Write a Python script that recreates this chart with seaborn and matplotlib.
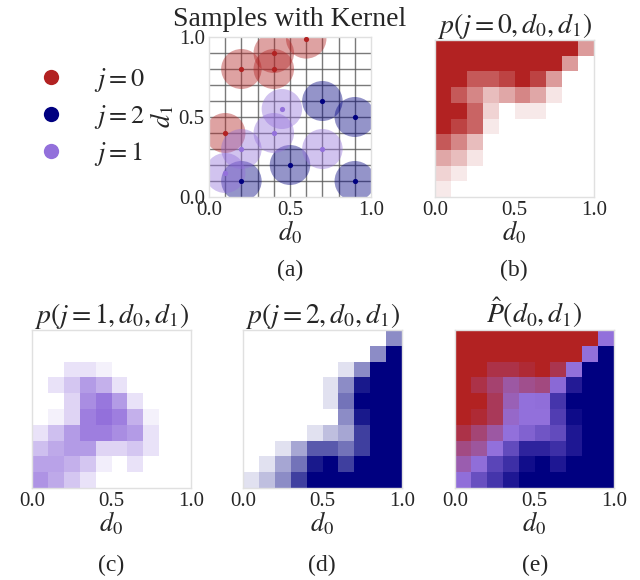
import numpy as np
import matplotlib
matplotlib.use("Agg")
import matplotlib.pyplot as plt
from matplotlib.colors import LinearSegmentedColormap
from matplotlib.patches import Circle
from matplotlib.lines import Line2D
import seaborn as sns

sns.set_theme(style="white")
plt.rcParams["font.family"] = ["Liberation Serif", "DejaVu Serif"]
plt.rcParams["mathtext.fontset"] = "stix"

RED, BLUE, PURPLE = "firebrick", "navy", "mediumpurple"

# ---- samples (d0, d1) per class ----
d0_j0 = [0.6, 0.4, 0.2, 0.4, 0.1]
d1_j0 = [0.99, 0.9, 0.8, 0.8, 0.4]
d0_j2 = [0.7, 0.9, 0.5, 0.2, 0.9]
d1_j2 = [0.6, 0.5, 0.2, 0.1, 0.1]
d0_j1 = [0.45, 0.4, 0.2, 0.7, 0.1]
d1_j1 = [0.55, 0.4, 0.3, 0.3, 0.15]
kernel_radius = 0.125

legend_labels = ["$j=0$", "$j=2$", "$j=1$"]
tick_labels = ["0.0", "0.5", "1.0"]

# ---- gridded joint densities, rows from d1=1 (top) to d1=0 (bottom) ----
p_j0 = np.array([
    [1, 1, 1, 1, 1, 1, 1, 1, 1, 0.45],
    [1, 1, 1, 1, 1, 1, 1, 1, 0.45, 0],
    [1, 1, 0.75, 0.75, 0.85, 1, 0.85, 0.45, 0, 0],
    [1, 0.75, 0.55, 0.3, 0.4, 0.55, 0.4, 0.12, 0, 0],
    [1, 1, 0.7, 0.2, 0, 0.1, 0.1, 0, 0, 0],
    [1, 0.85, 0.7, 0.1, 0, 0, 0, 0, 0, 0],
    [0.75, 0.55, 0.3, 0, 0, 0, 0, 0, 0, 0],
    [0.4, 0.3, 0.12, 0, 0, 0, 0, 0, 0, 0],
    [0.2, 0.1, 0, 0, 0, 0, 0, 0, 0, 0],
    [0.1, 0, 0, 0, 0, 0, 0, 0, 0, 0],
])
p_j1 = np.array([
    [0, 0, 0, 0, 0, 0, 0, 0, 0, 0],
    [0, 0, 0, 0, 0, 0, 0, 0, 0, 0],
    [0, 0, 0.2, 0.2, 0.1, 0, 0, 0, 0, 0],
    [0, 0.2, 0.4, 0.7, 0.55, 0.2, 0, 0, 0, 0],
    [0, 0, 0.3, 0.8, 0.95, 0.7, 0.2, 0, 0, 0],
    [0, 0.1, 0.3, 0.9, 1.0, 0.9, 0.55, 0.1, 0, 0],
    [0.2, 0.45, 0.7, 0.9, 0.9, 0.8, 0.7, 0.2, 0, 0],
    [0.45, 0.6, 0.7, 0.7, 0.3, 0.3, 0.4, 0.2, 0, 0],
    [0.65, 0.65, 0.55, 0.4, 0.12, 0, 0.2, 0, 0, 0],
    [0.75, 0.6, 0.4, 0.2, 0, 0, 0, 0, 0, 0],
])
p_j2 = np.array([
    [0, 0, 0, 0, 0, 0, 0, 0, 0, 0.45],
    [0, 0, 0, 0, 0, 0, 0, 0, 0.45, 1],
    [0, 0, 0, 0, 0, 0, 0.12, 0.45, 1, 1],
    [0, 0, 0, 0, 0, 0.12, 0.45, 0.9, 1, 1],
    [0, 0, 0, 0, 0, 0.12, 0.55, 1, 1, 1],
    [0, 0, 0, 0, 0, 0, 0.45, 0.9, 1, 1],
    [0, 0, 0, 0, 0.12, 0.25, 0.35, 0.75, 1, 1],
    [0, 0, 0.12, 0.35, 0.65, 0.65, 0.55, 0.75, 1, 1],
    [0, 0.12, 0.35, 0.55, 0.9, 1, 0.75, 1, 1, 1],
    [0.12, 0.25, 0.45, 0.75, 1, 1, 1, 1, 1, 1],
])

fig = plt.figure(figsize=(6.4, 5.8), dpi=100)

W, H = 640.0, 580.0
def box(left, top, w, h):
    return [left / W, 1 - (top + h) / H, w / W, h / H]

ax_a = fig.add_axes(box(209, 37, 162, 160))
ax_b = fig.add_axes(box(435, 40, 159, 157))
ax_c = fig.add_axes(box(32, 330, 159, 158))
ax_d = fig.add_axes(box(243, 330, 159, 158))
ax_e = fig.add_axes(box(455, 330, 159, 158))

TITLE_FS = 20
TICK_FS = 15
LABEL_FS = 19
CAPTION_FS = 17

# ---- (a) samples with kernels ----
samples = [(d0_j0, d1_j0, RED), (d0_j2, d1_j2, BLUE), (d0_j1, d1_j1, PURPLE)]
for xs, ys, col in samples:
    for x, y in zip(xs, ys):
        ax_a.add_patch(Circle((x, y), kernel_radius, facecolor=col,
                              edgecolor="none", alpha=0.42, zorder=2))
    sns.scatterplot(x=xs, y=ys, color=col, s=14, linewidth=0, ax=ax_a, zorder=3)
for v in np.arange(1, 10) / 10:
    ax_a.axvline(v, color="0.35", lw=1.0, alpha=0.8, zorder=1)
    ax_a.axhline(v, color="0.35", lw=1.0, alpha=0.8, zorder=1)
ax_a.set_xlim(0, 1)
ax_a.set_ylim(0, 1)
ax_a.set_xticks([0, 0.5, 1])
ax_a.set_xticklabels(tick_labels)
ax_a.set_yticks([0, 0.5, 1])
ax_a.set_yticklabels(tick_labels)
ax_a.set_xlabel("$d_0$", fontsize=LABEL_FS, labelpad=-1)
ax_a.set_ylabel("$d_1$", fontsize=LABEL_FS, labelpad=2)
ax_a.set_title("Samples with Kernel", fontsize=TITLE_FS, pad=8)


def white_to(color):
    return LinearSegmentedColormap.from_list("w_" + color, ["white", color])


def density_panel(ax, data, cmap, vmax, title):
    sns.heatmap(data, ax=ax, cmap=cmap, vmin=0, vmax=vmax, cbar=False,
                xticklabels=False, yticklabels=False)
    ax.set_xticks([0, 5, 10])
    ax.set_xticklabels(tick_labels, rotation=0)
    ax.set_yticks([])
    ax.set_xlabel("$d_0$", fontsize=LABEL_FS, labelpad=-1)
    ax.set_title(title, fontsize=TITLE_FS, pad=5)


density_panel(ax_b, p_j0, white_to(RED), 1, "$p(j=0,d_0,d_1)$")
density_panel(ax_c, p_j1, white_to(PURPLE), 1, "$p(j=1,d_0,d_1)$")
density_panel(ax_d, p_j2, white_to(BLUE), 1, "$p(j=2,d_0,d_1)$")

# ---- (e) expected class index per cell ----
total = p_j0 + p_j1 + p_j2
expected_j = np.where(total > 0, (p_j1 + 2 * p_j2) / np.where(total > 0, total, 1), 1)
class_cmap = LinearSegmentedColormap.from_list("classes", [RED, PURPLE, BLUE])
density_panel(ax_e, expected_j, class_cmap, 2, r"$\hat{P}(d_0,d_1)$")

for ax in [ax_a, ax_b, ax_c, ax_d, ax_e]:
    for sp in ax.spines.values():
        sp.set_visible(True)
        sp.set_color("0.88")
        sp.set_linewidth(1.0)
    ax.tick_params(labelsize=TICK_FS, pad=3, length=0, colors="0.15")

# ---- legend ----
handles = [Line2D([], [], marker="o", linestyle="none", markersize=11,
                  markerfacecolor=c, markeredgecolor="none") for c in (RED, BLUE, PURPLE)]
fig.legend(handles, legend_labels, loc="center left", bbox_to_anchor=(31 / W, 1 - 117 / H),
           frameon=False, fontsize=LABEL_FS, handletextpad=0.9, labelspacing=0.35,
           handlelength=1.5, borderpad=0, borderaxespad=0)

# ---- captions ----
for label, x, y in [("(a)", 290, 270), ("(b)", 514, 270), ("(c)", 111, 565),
                    ("(d)", 322, 565), ("(e)", 535, 565)]:
    fig.text(x / W, 1 - y / H, label, ha="center", va="center", fontsize=CAPTION_FS)

fig.savefig("out.png", dpi=100)
